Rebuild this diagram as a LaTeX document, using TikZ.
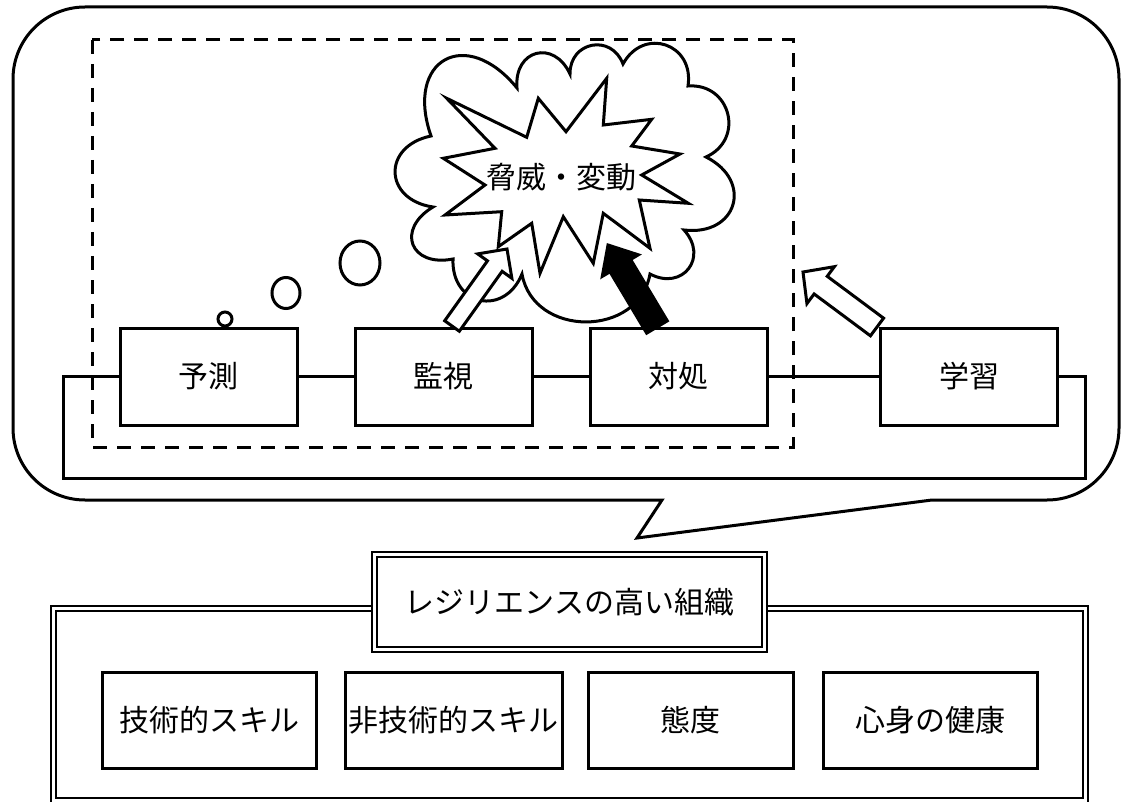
\documentclass[tikz,border=0pt]{standalone}
\usepackage{fontspec}
\newfontfamily\jp{Noto Sans CJK JP}
\usetikzlibrary{calc}
\newcommand{\jpf}{\jp\fontsize{30}{34}\selectfont}
\newcommand{\blockarr}[5]{%
  \coordinate (#2b) at ($(#2e)!#5!(#2s)$);
  \draw[#1] ($(#2s)!#3!90:(#2e)$) -- ($(#2b)!#3!90:(#2e)$) -- ($(#2b)!#4!90:(#2e)$) -- (#2e)
    -- ($(#2b)!#4!-90:(#2e)$) -- ($(#2b)!#3!-90:(#2e)$) -- ($(#2s)!#3!-90:(#2e)$) -- cycle;}
\begin{document}
\begin{tikzpicture}[x=1pt,y=-1pt,line join=miter,
  lw/.style={line width=3pt},
  box/.style={draw, fill=white, line width=3pt, inner sep=0pt, minimum height=97pt, minimum width=177pt, font=\jpf},
  bbox/.style={draw, fill=white, line width=3pt, inner sep=0pt, minimum height=96pt, font=\jpf},
  dbl/.style={draw, double=white, line width=2pt, double distance=3pt, fill=white, inner sep=0pt},
  wire/.style={line width=3pt},
  warr/.style={draw, fill=white, line width=3pt, line join=miter},
  barr/.style={draw, fill=black, line width=3pt, line join=miter},
  thought/.style={line width=3pt}]
\useasboundingbox (0,0) rectangle (1121,802);

% speech bubble
\draw[lw, fill=white] (85,7) -- (1047,7) .. controls (1086.8,7) and (1119,39.2) .. (1119,79)
  -- (1119,428) .. controls (1119,467.8) and (1086.8,500) .. (1047,500)
  -- (932,500) -- (637,538) -- (662,500)
  -- (85,500) .. controls (45.2,500) and (13,467.8) .. (13,428)
  -- (13,79) .. controls (13,39.2) and (45.2,7) .. (85,7) -- cycle;

% dashed frame
\draw[lw, dash pattern=on 14pt off 10pt] (92,40) rectangle (793,447);

% cycle boxes
\node[box] (yosoku) at (208.5,376.5) {予測};
\node[box] (kanshi) at (443.5,376.5) {監視};
\node[box] (taisho) at (678.5,376.5) {対処};
\node[box] (gakushu) at (969,376.5) {学習};
\coordinate (wl) at (63,478);
\coordinate (wr) at (1085,478);
\draw[wire] (yosoku.east) -- (kanshi.west);
\draw[wire] (kanshi.east) -- (taisho.west);
\draw[wire] (taisho.east) -- (gakushu.west);
\draw[wire] (yosoku.west) -| (wl) -- (wr) |- (gakushu.east);

% thought circles
\draw[thought] (225,319) circle[radius=7pt];
\draw[thought] (286,293) ellipse[x radius=14pt, y radius=15.5pt];
\draw[thought] (360,263) ellipse[x radius=20pt, y radius=22pt];

% cloud
\draw[lw, fill=white] (433,207)
  to[bend left=80, looseness=1.8] (431,136)
  to[bend left=80, looseness=2.1] (517,88)
  to[bend left=80, looseness=1.8] (570,74)
  to[bend left=80, looseness=1.55] (623,64)
  to[bend left=80, looseness=1.6] (688,86)
  to[bend left=80, looseness=1.5] (706,157)
  to[bend left=80, looseness=1.8] (684,230)
  to[bend left=80, looseness=1.7] (650,274)
  to[bend left=80, looseness=1.3] (522,274)
  to[bend left=80, looseness=1.7] (453,259)
  to[bend left=80, looseness=2.0] cycle;

% starburst
\draw[lw, fill=white] (446.7,98.3) -- (526.7,137.3) -- (538.3,98.3) -- (566,131.7) -- (606.7,78.3)
  -- (603.3,125) -- (651.7,119.3) -- (631.7,146) -- (680,154) -- (641.7,175) -- (688.3,203.3)
  -- (639.3,200) -- (650,248.3) -- (603.3,213.3) -- (593.3,263.3) -- (563.3,216.7) -- (540,273.3)
  -- (531.7,223.3) -- (498.3,246.7) -- (501.7,211.7) -- (445,215) -- (485,185) -- (443.3,158.3)
  -- (495,148.3) -- cycle;
\node[font=\jpf, inner sep=0pt] (threat) at (561,177) {脅威・変動};

% block arrows
\coordinate (p1s) at (452,326); \coordinate (p1e) at (507,249);
\blockarr{warr}{p1}{9pt}{21pt}{21pt}
\coordinate (p2s) at (657,327); \coordinate (p2e) at (608,245);
\blockarr{barr}{p2}{12pt}{21pt}{24pt}
\coordinate (p3s) at (877,327); \coordinate (p3e) at (803,272);
\blockarr{warr}{p3}{11pt}{23pt}{22pt}

% organisation
\node[dbl, minimum width=1032pt, minimum height=192pt] (org) at (569.25,704) {};
\node[dbl, minimum width=390pt, minimum height=95.5pt, font=\jpf] (title) at (569.5,602) {レジリエンスの高い組織};
\node[bbox, minimum width=214pt] (tech) at (209,720) {技術的スキル};
\node[bbox, minimum width=217pt] (ntech) at (453.5,720) {非技術的スキル};
\node[bbox, minimum width=205pt] (attitude) at (690.5,720) {態度};
\node[bbox, minimum width=214pt] (health) at (930,720) {心身の健康};
\end{tikzpicture}
\end{document}
